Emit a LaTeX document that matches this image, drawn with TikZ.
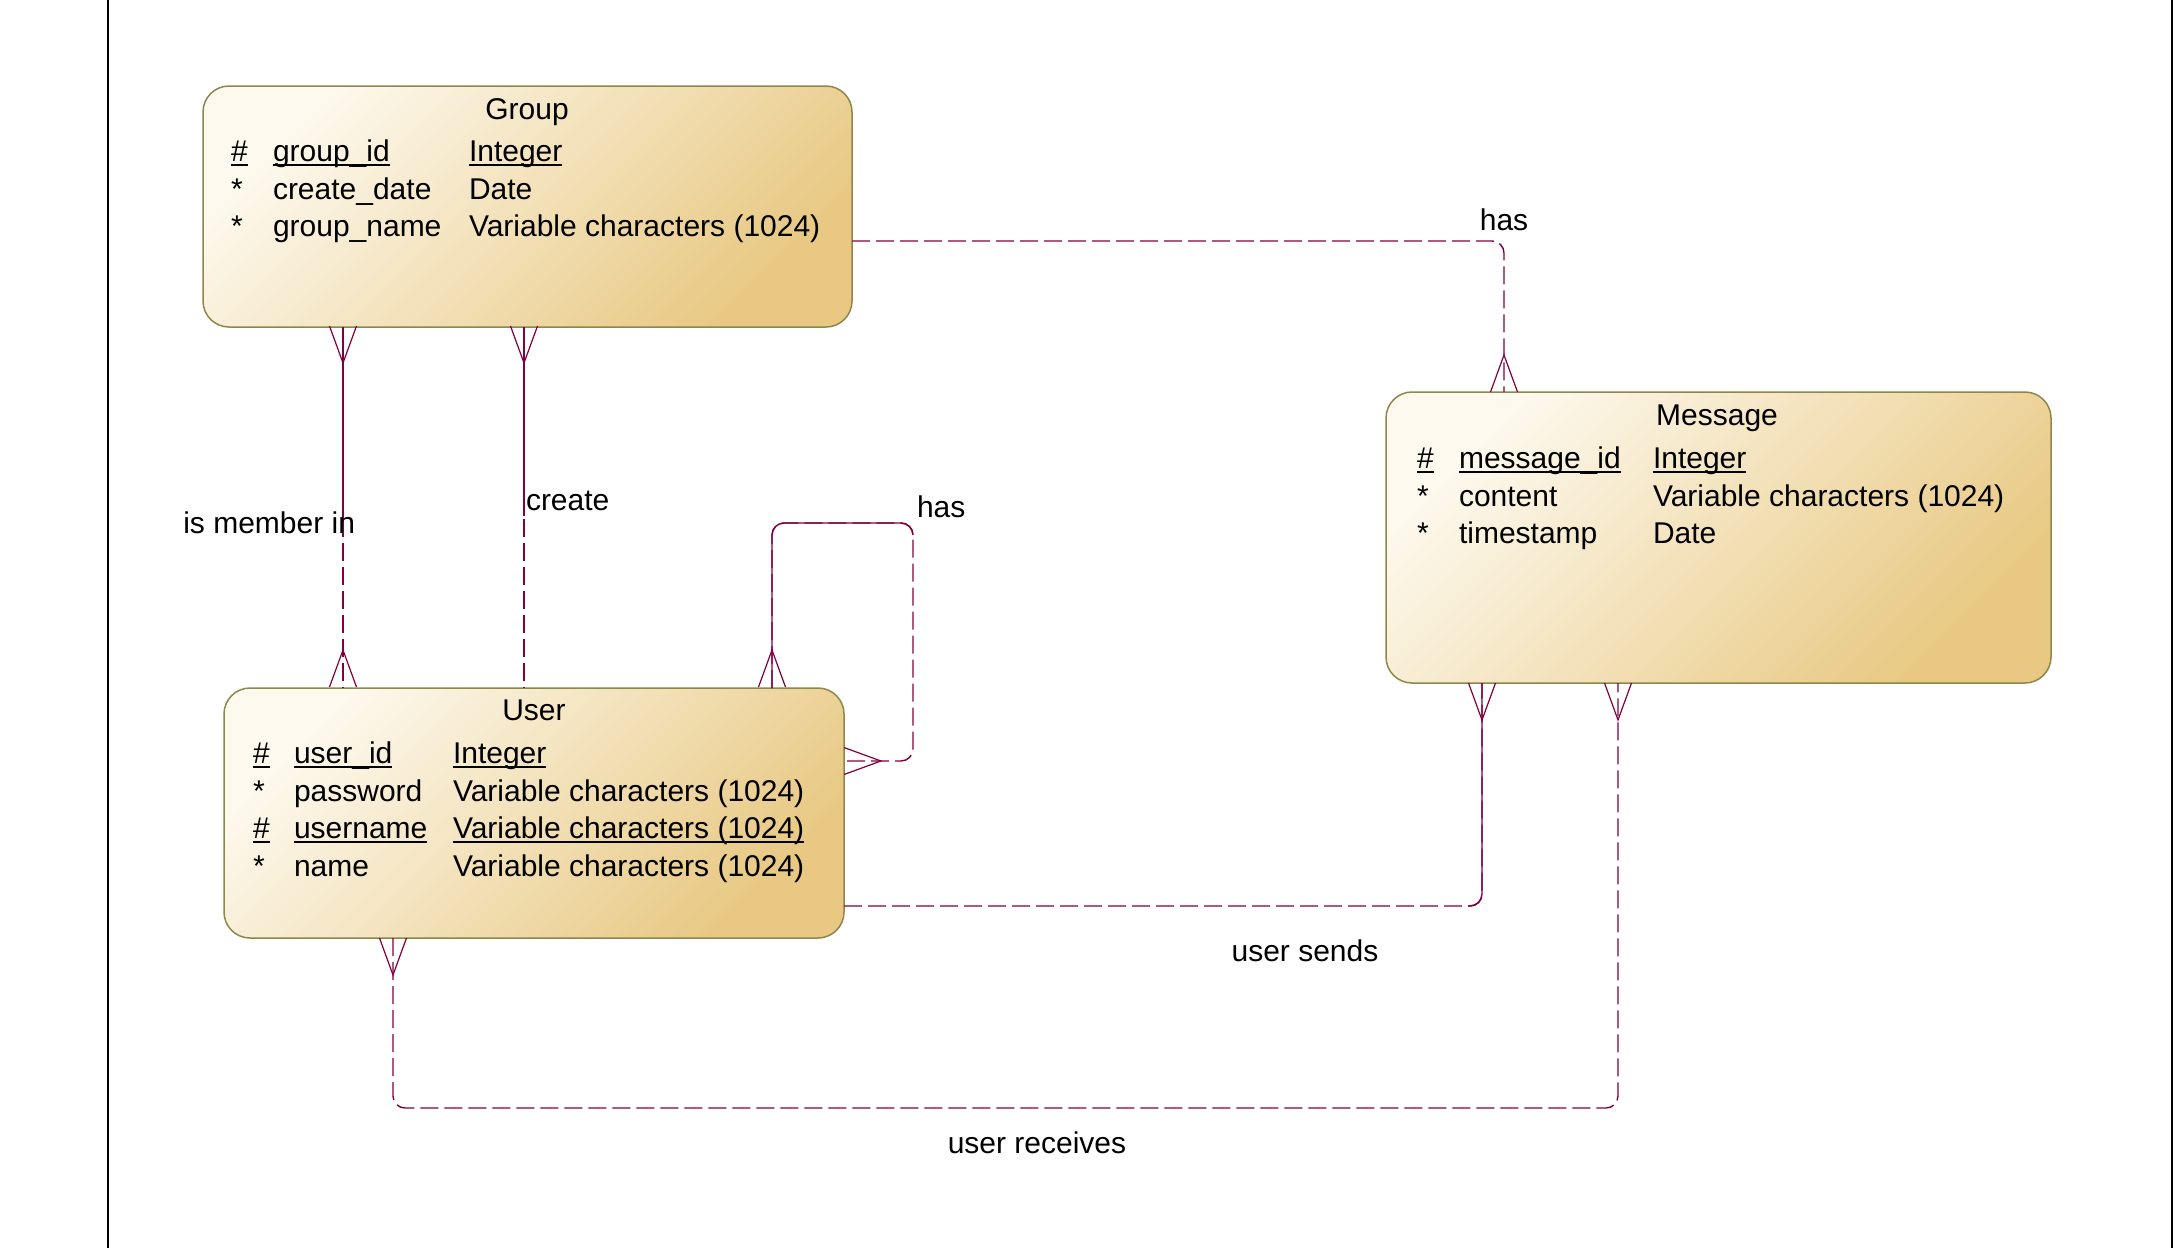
\documentclass[tikz,border=0pt]{standalone}
\usepackage{fontspec}
\setmainfont{Liberation Sans}
\usetikzlibrary{calc}
\definecolor{rel}{RGB}{128,0,64}
\definecolor{ebord}{RGB}{140,135,75}
\definecolor{elight}{RGB}{253,249,238}
\definecolor{edark}{RGB}{232,200,130}
\newcommand\ulbox[1]{\sbox0{#1}\rlap{\rule[-2.6pt]{\wd0}{0.9pt}}\usebox0}
\begin{document}
\begin{tikzpicture}[x=0.5pt,y=-0.5pt,
  entity/.style={draw=ebord, line width=0.75pt, rounded corners=13pt, top color=elight, bottom color=edark, shading angle=45, inner sep=0pt, outer sep=0pt},
  txt/.style={font=\fontsize{15}{18}\selectfont, inner sep=0pt, outer sep=0pt, anchor=base west},
  ttl/.style={txt, anchor=base},
  lbl/.style={txt},
  relline/.style={draw=rel, line width=0.7pt, rounded corners=6pt},
  reldash/.style={relline, dash pattern=on 9pt off 3pt},
  crow/.style={draw=rel, line width=0.6pt},
]
\useasboundingbox (0,0) rectangle (2180,1248);
\draw[black, line width=1pt] (108,0) -- (108,1248);
\draw[black, line width=1pt] (2172,0) -- (2172,1248);

% entities
\node[entity, minimum width=324.5pt, minimum height=120.5pt] (group) at (527.5,206.5) {};
\node[entity, minimum width=310pt, minimum height=125pt] (user) at (534,813) {};
\node[entity, minimum width=332.5pt, minimum height=145.5pt] (message) at (1718.5,537.5) {};

% Group - Message : has
\draw[reldash] (group.east |- 0,241) -| (message.north -| 1504,0);
\draw[crow] (1490.5,392) -- (1504,355) -- (1517.5,392);

% Group - User : is member in
\draw[reldash] (group.south -| 343,0) -- (user.north -| 343,0);
\draw[relline] (group.south -| 343,0) -- (343,520);
\draw[crow] (329.5,326) -- (343,363) -- (356.5,326);
\draw[crow] (329.5,687) -- (343,650) -- (356.5,687);

% Group - User : create
\draw[reldash] (group.south -| 524,0) -- (user.north -| 524,0);
\draw[relline] (group.south -| 524,0) -- (524,516);
\draw[crow] (510.5,326) -- (524,363) -- (537.5,326);

% User self : has
\draw[reldash] (user.north -| 772,0) -- (772,523) -- (913,523) -- (913,761) -- (user.east |- 0,761);
\draw[relline] (user.north -| 772,0) -- (772,523) -- (913,523) -- (913,535);
\draw[crow] (758.5,687) -- (772,650) -- (785.5,687);
\draw[crow] (844,747.5) -- (881,761) -- (844,774.5);

% User - Message : user sends
\draw[reldash] (user.east |- 0,906) -| (message.south -| 1482,0);
\draw[relline] (1468,906) -| (message.south -| 1482,0);
\draw[crow] (1468.5,683) -- (1482,720) -- (1495.5,683);

% User - Message : user receives
\draw[reldash] (user.south -| 393,0) |- (1618,1108) -- (message.south -| 1618,0);
\draw[crow] (379.5,938) -- (393,975) -- (406.5,938);
\draw[crow] (1604.5,683) -- (1618,720) -- (1631.5,683);

% Group text
\node[ttl] (gT) at (527,119) {Group};
\node[txt] (g1a) at (231,161) {\ulbox{\#}};
\node[txt] (g1b) at (273,161) {\ulbox{group\_id}};
\node[txt] (g1c) at (469,161) {\ulbox{Integer}};
\node[txt] (g2a) at (231,199) {*};
\node[txt] (g2b) at (273,199) {create\_date};
\node[txt] (g2c) at (469,199) {Date};
\node[txt] (g3a) at (231,236) {*};
\node[txt] (g3b) at (273,236) {group\_name};
\node[txt] (g3c) at (469,236) {Variable characters (1024)};

% User text
\node[ttl] (uT) at (534,720) {User};
\node[txt] (u1a) at (253,763) {\ulbox{\#}};
\node[txt] (u1b) at (294,763) {\ulbox{user\_id}};
\node[txt] (u1c) at (453,763) {\ulbox{Integer}};
\node[txt] (u2a) at (253,801) {*};
\node[txt] (u2b) at (294,801) {password};
\node[txt] (u2c) at (453,801) {Variable characters (1024)};
\node[txt] (u3a) at (253,838) {\ulbox{\#}};
\node[txt] (u3b) at (294,838) {\ulbox{username}};
\node[txt] (u3c) at (453,838) {\ulbox{Variable characters (1024)}};
\node[txt] (u4a) at (253,876) {*};
\node[txt] (u4b) at (294,876) {name};
\node[txt] (u4c) at (453,876) {Variable characters (1024)};

% Message text
\node[ttl] (mT) at (1717,425) {Message};
\node[txt] (m1a) at (1417,468) {\ulbox{\#}};
\node[txt] (m1b) at (1459,468) {\ulbox{message\_id}};
\node[txt] (m1c) at (1653,468) {\ulbox{Integer}};
\node[txt] (m2a) at (1417,506) {*};
\node[txt] (m2b) at (1459,506) {content};
\node[txt] (m2c) at (1653,506) {Variable characters (1024)};
\node[txt] (m3a) at (1417,543) {*};
\node[txt] (m3b) at (1459,543) {timestamp};
\node[txt] (m3c) at (1653,543) {Date};

% relation labels
\node[lbl, anchor=base] (lHas1) at (1504,230) {has};
\node[lbl, anchor=base east] (lMem) at (355,533) {is member in};
\node[lbl] (lCre) at (526,510) {create};
\node[lbl] (lHas2) at (917,517) {has};
\node[lbl, anchor=base] (lSend) at (1305,961) {user sends};
\node[lbl, anchor=base] (lRecv) at (1037,1153) {user receives};
\end{tikzpicture}
\end{document}
